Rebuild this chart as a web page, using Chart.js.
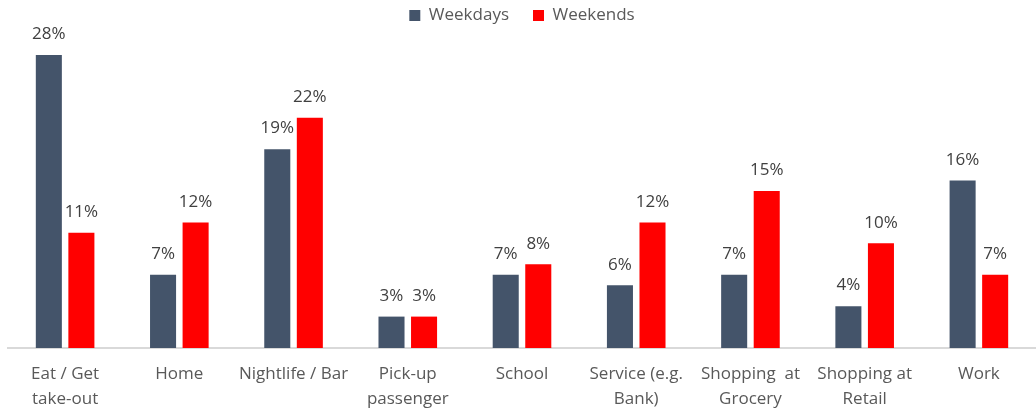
<!DOCTYPE html>
<html>
<head>
<meta charset="utf-8">
<script src="https://cdn.jsdelivr.net/npm/chart.js@4/dist/chart.umd.min.js"></script>
<style>
  html, body { margin: 0; padding: 0; background: #fff; }
  #wrap { width: 1036px; height: 412px; }
</style>
</head>
<body>
<div id="wrap"><canvas id="chart"></canvas></div>
<script>
const categories = [
  ["Eat / Get", "take-out"],
  "Home",
  "Nightlife / Bar",
  ["Pick-up", "passenger"],
  "School",
  ["Service (e.g.", "Bank)"],
  ["Shopping  at", "Grocery"],
  ["Shopping at", "Retail"],
  "Work"
];
const weekdays = [28, 7, 19, 3, 7, 6, 7, 4, 16];
const weekends = [11, 12, 22, 3, 8, 12, 15, 10, 7];

const FONT = "'Open Sans', sans-serif";

// valeurs au-dessus des barres
const barLabels = {
  id: "barLabels",
  afterDatasetsDraw(chart) {
    const ctx = chart.ctx;
    ctx.save();
    ctx.font = "17px " + FONT;
    ctx.fillStyle = "#404040";
    ctx.textAlign = "center";
    ctx.textBaseline = "bottom";
    chart.data.datasets.forEach((ds, i) => {
      chart.getDatasetMeta(i).data.forEach((bar, j) => {
        ctx.fillText(ds.data[j] + "%", bar.x, bar.y - 12);
      });
    });
    ctx.restore();
  }
};

new Chart(document.getElementById("chart"), {
  type: "bar",
  data: {
    labels: categories,
    datasets: [
      { label: "Weekdays", data: weekdays, backgroundColor: "#44546A" },
      { label: "Weekends", data: weekends, backgroundColor: "#FF0000" }
    ]
  },
  options: {
    responsive: true,
    maintainAspectRatio: false,
    animation: false,
    layout: { padding: { left: 8, right: 0, top: -17, bottom: -14 } },
    datasets: { bar: { categoryPercentage: 0.57, barPercentage: 0.8 } },
    plugins: {
      legend: {
        position: "top",
        labels: {
          font: { family: FONT, size: 17 },
          color: "#595959",
          boxWidth: 11,
          boxHeight: 11,
          padding: 24
        }
      },
      tooltip: { enabled: false }
    },
    scales: {
      x: {
        grid: { display: false, drawTicks: false },
        border: { color: "#D9D9D9", width: 2 },
        ticks: {
          font: { family: FONT, size: 17, lineHeight: "25px" },
          color: "#595959",
          padding: 14,
          maxRotation: 0,
          autoSkip: false
        }
      },
      y: {
        display: false,
        min: 0,
        max: 30
      }
    }
  },
  plugins: [barLabels]
});
</script>
</body>
</html>
